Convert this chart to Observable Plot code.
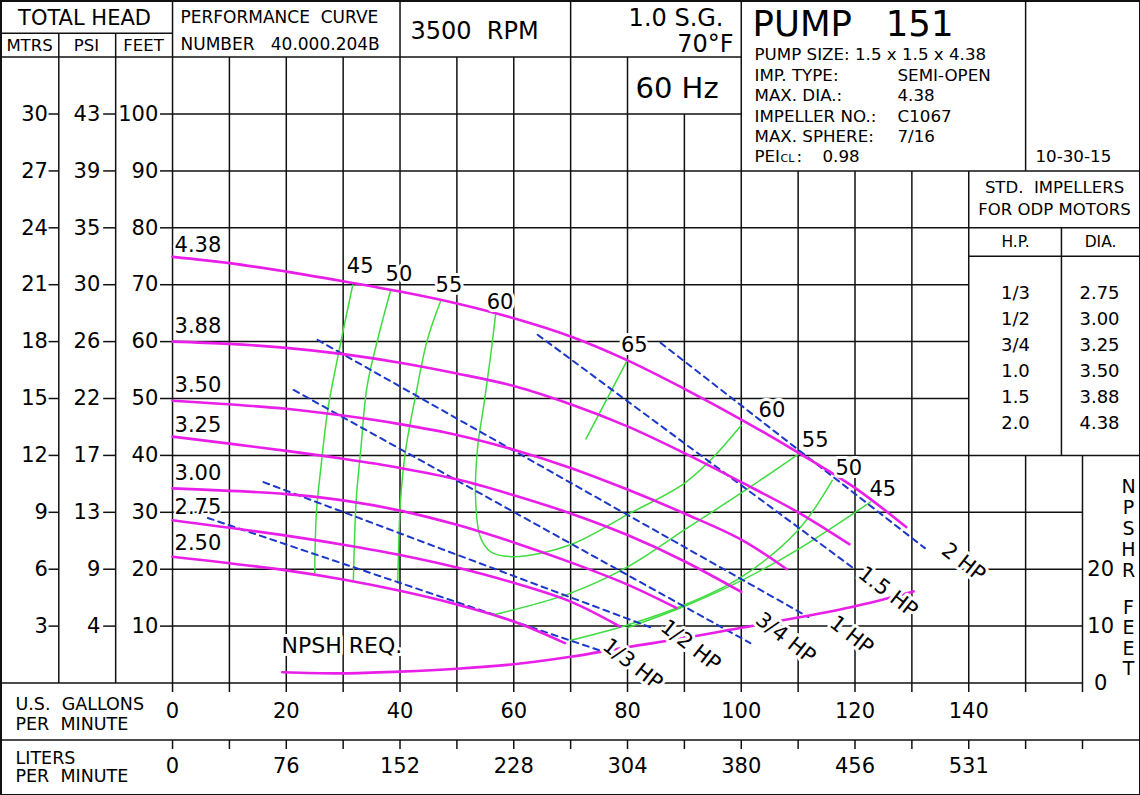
<!DOCTYPE html>
<html><head><meta charset="utf-8">
<script src="https://cdn.jsdelivr.net/npm/d3@7"></script>
<script src="https://cdn.jsdelivr.net/npm/@observablehq/plot@0.6"></script>
<style>
body{margin:0;background:#fff}
svg{display:block}
svg text{white-space:pre}
</style>
</head><body><div id="chart"></div>
<script>
// ---------- tick labels ----------
const gpmTicks = [0, 20, 40, 60, 80, 100, 120, 140];
const literTicks = [0, 76, 152, 228, 304, 380, 456, 531];
const feetTicks = [10, 20, 30, 40, 50, 60, 70, 80, 90, 100];
const psiTicks = [4, 9, 13, 17, 22, 26, 30, 35, 39, 43];
const mtrsTicks = [3, 6, 9, 12, 15, 18, 21, 24, 27, 30];
const npshTicks = [0, 10, 20];

// ---------- head-capacity curves (GPM, feet) ----------
const dia438 = [[0,74.9],[10,73.8],[20,72.3],[30,70.6],[40,68.8],[50,66.7],[60,64.1],[70,60.9],[80,56.7],[90,51.7],[100,46.3],[110,40.5],[120,34.3],[129,27.4]];
const dia388 = [[0,60.0],[10,59.6],[20,58.9],[30,57.8],[40,56.3],[50,54.4],[60,52.2],[70,49.0],[80,45.1],[90,40.4],[100,35.3],[110,30.0],[119,24.4]];
const dia350 = [[0,49.6],[20,48.2],[30,47.0],[40,45.5],[50,43.6],[60,41.0],[70,37.8],[80,34.0],[90,29.8],[100,25.2],[108,20.0]];
const dia325 = [[0,43.3],[20,40.8],[30,39.4],[40,37.8],[50,35.8],[60,33.0],[70,29.8],[80,26.0],[90,21.4],[100,16.0]];
const dia300 = [[0,34.2],[20,33.2],[30,32.1],[40,30.3],[50,27.8],[60,24.7],[70,21.2],[80,17.3],[88.6,13.2]];
const dia275 = [[0,28.6],[20,25.9],[30,24.3],[40,22.5],[50,20.3],[60,17.6],[70,14.3],[78.7,9.9]];
const dia250 = [[0,22.2],[20,19.8],[30,18.2],[40,16.2],[50,13.8],[60,10.8],[69,7.0]];
const diaNames = ["4.38","3.88","3.50","3.25","3.00","2.75","2.50"];
const diaCurves = [dia438, dia388, dia350, dia325, dia300, dia275, dia250];
const diaLabelY = [77.0, 62.7, 52.4, 45.3, 36.8, 30.8, 24.5];

// ---------- efficiency contours ----------
const eff45L = [[31.7,70],[29.2,58],[27.3,48],[26.1,38],[25.3,30],[25.0,19.4]];
const eff50L = [[38.3,68.8],[36.2,60.9],[34.2,52.1],[33.1,41],[32.3,32.2],[31.8,18.1]];
const eff55L = [[47.1,67],[44.8,60.3],[42.7,50.3],[41.0,41],[40.1,32.2],[39.6,17.6]];
const eff60 = [[56.8,64.7],[55.9,57.3],[54.7,48.6],[53.6,41],[53.3,32.2],[54.1,25.7],[55.9,23.1],[60,22.2],[70,24.3],[80,29.6],[90,35.1],[95,39.6],[100,45.3]];
const eff65 = [[72.7,42.9],[79.9,56.6]];
const eff55R = [[56.5,12],[70,15.8],[80,20.4],[90,26.9],[100,33.4],[110,40.2]];
const eff50R = [[70,7.5],[80,10.2],[90,13.7],[100,18.6],[110,26.9],[116,35.6]];
const eff45R = [[80,9.7],[90,13.5],[100,18.0],[110,23.5],[122.7,31.8]];
const effCurves = [eff45L, eff50L, eff55L, eff60, eff65, eff55R, eff50R, eff45R];
const effLabels = ["45","50","55","60","65","60","55","50","45"];
const effLabelX = [33.0, 39.8, 48.6, 57.6, 81.2, 105.4, 113.0, 118.9, 124.9];
const effLabelY = [73.3, 71.9, 69.9, 67.0, 59.4, 48.0, 42.7, 37.8, 34.1];

// ---------- horsepower lines ----------
const hp2 = [[85.8,59.8],[132.3,23.7]];
const hp15 = [[64.2,61.2],[119.7,20.2]];
const hp1 = [[25.5,60.3],[111.8,11.6]];
const hp34 = [[21.3,51.5],[101.6,7.0]];
const hp12 = [[16.0,35.3],[84.0,9.8]];
const hp13 = [[6.2,29.0],[75.2,5.7]];
const hpCurves = [hp2, hp15, hp1, hp34, hp12, hp13];
const hpLabels = ["2 HP","1.5 HP","1 HP","3/4 HP","1/2 HP","1/3 HP"];
const hpLabelX = [139.1, 125.8, 119.4, 107.8, 91.1, 80.9];
const hpLabelY = [21.2, 16.0, 8.4, 7.9, 6.6, 3.3];

// ---------- NPSH required ----------
const npsh = [[19.3,1.9],[30,1.7],[40,2.0],[50,2.5],[60,3.3],[70,4.6],[80,6.3],[90,7.9],[100,9.7],[110,11.5],[120,13.5],[130.3,16.1]];

// ---------- impeller table ----------
const tableHP = ["1/3","1/2","3/4","1.0","1.5","2.0"];
const tableDia = ["2.75","3.00","3.25","3.50","3.88","4.38"];

// ================= drawing =================
const F = "'DejaVu Sans', Verdana, sans-serif";
const INK = "#111";
const MAG = "#e91ee9";
const GRN = "#3fdc3f";
const BLU = "#1c38c8";
const X0 = -30.25, X1 = 170.2, Y0 = -19.77, Y1 = 119.95;

// layout of the form (in GPM / feet units of the grid)
const hLines = [
  [114.2,X0,0],[110,X0,100],[100,0,100],[90,0,X1],[80,0,X1],[75,140,X1],
  [70,0,140],[60,0,140],[50,0,140],[40,0,X1],[30,0,160],[20,0,160],[10,0,160],
  [0,X0,160],[-10,X0,X1]
];
const vLines = [
  [-20,0,114.2],[-10,0,114.2],[0,-1.6,Y1],[10,-1.6,110],[20,-1.6,110],[30,-1.6,110],
  [40,-1.6,Y1],[50,-1.6,110],[60,-1.6,110],[70,-1.6,Y1],[80,-1.6,110],[90,-1.6,100],
  [100,-1.6,Y1],[110,-1.6,90],[120,-1.6,90],[130,-1.6,90],[140,-1.6,90],
  [150,-1.6,40],[150,90,Y1],[160,-1.6,40],[156.3,40,80]
];
const tickX = d3.range(0, 161, 10);

const rows = (arrs, names) => arrs.flatMap((a, i) => a.map(([x, y]) => ({x, y, k: names ? names[i] : i})));

const ann = (text, dx, dy, size, anchor = "start", extra = {}) =>
  Plot.text([text], {frameAnchor: "top-left", dx, dy, text: d => d, fontSize: size,
    textAnchor: anchor, lineAnchor: "middle", fontFamily: F, fill: "#000", ...extra});

const halo = {stroke: "white", strokeWidth: 6, fill: "#000"};

const chart = Plot.plot({
  width: 1140, height: 795, margin: 0,
  x: {domain: [X0, X1], axis: null},
  y: {domain: [Y0, Y1], axis: null},
  style: {fontFamily: F, background: "white"},
  marks: [
    // grid & form
    Plot.link(hLines, {x1: d => d[1], x2: d => d[2], y1: d => d[0], y2: d => d[0], stroke: INK, strokeWidth: 1.5}),
    Plot.link(vLines, {x1: d => d[0], x2: d => d[0], y1: d => d[1], y2: d => d[2], stroke: INK, strokeWidth: 1.5}),
    Plot.link(tickX, {x1: d => d, x2: d => d, y1: -10, y2: -11.6, stroke: INK, strokeWidth: 1.5}),
    Plot.link(feetTicks, {x1: -2.2, x2: 0, y1: d => d, y2: d => d, stroke: INK, strokeWidth: 1.5}),
    Plot.link(feetTicks, {x1: -12.2, x2: -10, y1: d => d, y2: d => d, stroke: INK, strokeWidth: 1.5}),
    Plot.link(feetTicks, {x1: -21.8, x2: -20, y1: d => d, y2: d => d, stroke: INK, strokeWidth: 1.5}),
    Plot.frame({stroke: INK, strokeWidth: 3}),

    // axis labels
    Plot.text(feetTicks, {x: -2.5, y: d => d, text: d => String(d), textAnchor: "end", fontSize: 21, fontFamily: F}),
    Plot.text(psiTicks, {x: -12.7, y: (d, i) => feetTicks[i], text: d => String(d), textAnchor: "end", fontSize: 21, fontFamily: F}),
    Plot.text(mtrsTicks, {x: -21.9, y: (d, i) => feetTicks[i], text: d => String(d), textAnchor: "end", fontSize: 21, fontFamily: F}),
    Plot.text(gpmTicks, {x: d => d, y: -4.9, text: d => String(d), fontSize: 21, fontFamily: F}),
    Plot.text(literTicks, {x: (d, i) => gpmTicks[i], y: -14.6, text: d => String(d), fontSize: 21, fontFamily: F}),
    Plot.text(npshTicks, {x: 163.2, y: d => d, text: d => String(d), fontSize: 21, fontFamily: F}),

    // curves
    Plot.line(rows(effCurves), {x: "x", y: "y", z: "k", stroke: GRN, strokeWidth: 1.5, curve: "catmull-rom"}),
    Plot.line(rows(hpCurves), {x: "x", y: "y", z: "k", stroke: BLU, strokeWidth: 2, strokeDasharray: "6,5"}),
    Plot.line(rows(diaCurves, diaNames), {x: "x", y: "y", z: "k", stroke: MAG, strokeWidth: 2.6, curve: "catmull-rom"}),
    Plot.line(npsh, {x: d => d[0], y: d => d[1], stroke: MAG, strokeWidth: 2.6, curve: "catmull-rom"}),

    // curve labels
    Plot.text(diaNames, {x: 0.35, y: (d, i) => diaLabelY[i], text: d => d, textAnchor: "start", fontSize: 21, fontFamily: F, ...halo, strokeWidth: 4}),
    Plot.text(effLabels, {x: (d, i) => effLabelX[i], y: (d, i) => effLabelY[i], text: d => d, fontSize: 21, fontFamily: F, ...halo}),
    Plot.text(hpLabels, {x: (d, i) => hpLabelX[i], y: (d, i) => hpLabelY[i], text: d => d, fontSize: 21, fontFamily: F, rotate: 38, ...halo}),
    Plot.text(["NPSH REQ."], {x: 19.16, y: 6.5, text: d => d, textAnchor: "start", fontSize: 22, fontFamily: F, ...halo}),

    // header
    ann("TOTAL HEAD", 84, 18, 21, "middle"),
    ann("MTRS", 29, 45, 16.5, "middle"),
    ann("PSI", 86, 45, 16.5, "middle"),
    ann("FEET", 143, 45, 16.5, "middle"),
    ann("PERFORMANCE  CURVE", 180, 17, 17),
    ann("NUMBER   40.000.204B", 180, 44, 17),
    ann("3500  RPM", 410, 31, 24),
    ann("1.0 S.G.", 723, 18, 24, "end"),
    ann("70°F", 733, 43.5, 24, "end"),
    ann("60 Hz", 635, 88, 29),
    ann("PUMP   151", 752, 24.5, 35.5),
    ann("PUMP SIZE: 1.5 x 1.5 x 4.38", 754, 54, 16.7),
    ann("IMP. TYPE:", 754, 75, 16.7), ann("SEMI-OPEN", 897, 75, 16.7),
    ann("MAX. DIA.:", 754, 95, 16.7), ann("4.38", 897, 95, 16.7),
    ann("IMPELLER NO.:", 754, 116, 16.7), ann("C1067", 897, 116, 16.7),
    ann("MAX. SPHERE:", 754, 136, 16.7), ann("7/16", 897, 136, 16.7),
    ann("PEI", 754, 156, 16.7), ann("CL", 780, 158, 11), ann(":", 796, 156, 16.7), ann("0.98", 822, 156, 16.7),
    ann("10-30-15", 1035, 156, 16.7),
    ann("STD.  IMPELLERS", 1054, 187, 16.5, "middle"),
    ann("FOR ODP MOTORS", 1054, 209, 16.5, "middle"),
    ann("H.P.", 1015, 242, 15.5, "middle"),
    ann("DIA.", 1100, 242, 15.5, "middle"),
    ann(tableHP.join("\n"), 1015, 355, 18, "middle", {lineHeight: 1.44}),
    ann(tableDia.join("\n"), 1099, 355, 18, "middle", {lineHeight: 1.44}),
    ann("U.S.  GALLONS", 15, 704, 17.5),
    ann("PER  MINUTE", 15, 723.5, 17.5),
    ann("LITERS", 15, 757.5, 17.5),
    ann("PER  MINUTE", 15, 776, 17.5),
    ann("N\nP\nS\nH\nR", 1128, 528, 19, "middle", {lineHeight: 1.1}),
    ann("F\nE\nE\nT", 1128, 637.5, 19, "middle", {lineHeight: 1.07})
  ]
});
document.getElementById("chart").appendChild(chart);
</script>
</body></html>
